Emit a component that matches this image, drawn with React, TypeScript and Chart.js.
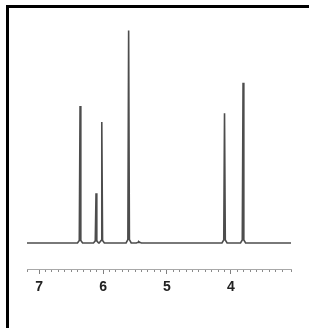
import React, { useEffect, useRef } from 'react';
import { Chart, registerables } from 'chart.js';

Chart.register(...registerables);

// Chemical shifts (ppm) of the peaks and their relative intensities (tallest = 100)
const peakShifts = [6.36, 6.11, 6.02, 5.6, 5.44, 4.1, 3.81];
const peakHeights = [64.5, 23.4, 57.0, 100, 0.6, 61.1, 75.4];
const peakFoot = [1.2, 1.0, 1.2, 1.6, 0.3, 1.4, 1.4];
const spectrumStart = 7.19;
const spectrumEnd = 3.06;
const axisMin = 3.06;
const axisMax = 7.19;
const yMin = -12.25;
const yMax = 105.0;

const isInt = (v: number) => Math.abs(v - Math.round(v)) < 1e-6;

function buildSpectrum() {
  const pts: { x: number; y: number }[] = [{ x: spectrumStart, y: 0 }];
  peakShifts.forEach((p, i) => {
    pts.push({ x: p + 0.04, y: 0 });
    pts.push({ x: p + 0.012, y: peakFoot[i] });
    pts.push({ x: p, y: peakHeights[i] });
    pts.push({ x: p - 0.012, y: peakFoot[i] });
    pts.push({ x: p - 0.04, y: 0 });
  });
  pts.push({ x: spectrumEnd, y: 0 });
  return pts;
}

export default function App() {
  const ref = useRef<HTMLCanvasElement | null>(null);

  useEffect(() => {
    if (!ref.current) return;
    const chart = new Chart(ref.current, {
      type: 'line',
      data: {
        datasets: [
          {
            data: buildSpectrum(),
            borderColor: '#4d4d4d',
            borderWidth: 1.6,
            pointRadius: 0,
            tension: 0,
            fill: false,
          },
        ],
      },
      options: {
        responsive: false,
        animation: false,
        layout: { padding: { left: 27, right: 18, top: 20, bottom: 0 } },
        plugins: { legend: { display: false }, tooltip: { enabled: false } },
        scales: {
          x: {
            type: 'linear',
            reverse: true,
            min: axisMin,
            max: axisMax,
            afterFit: (s: any) => {
              s.height = 59;
            },
            grid: {
              drawOnChartArea: false,
              drawTicks: true,
              tickLength: 5,
              tickWidth: 1,
              tickColor: (ctx: any) =>
                ctx.tick && isInt(ctx.tick.value) ? '#808080' : '#8a8a8a',
              tickBorderDash: (ctx: any) =>
                ctx.tick && isInt(ctx.tick.value) ? [] : [2, 20],
            },
            border: { display: true, color: '#a8a8a8', width: 1 },
            ticks: {
              stepSize: 0.1,
              autoSkip: false,
              maxRotation: 0,
              minRotation: 0,
              padding: 5,
              color: '#222222',
              font: { family: 'Liberation Sans', size: 14, weight: 'bold' },
              callback: (v: any) => (isInt(Number(v)) ? String(Math.round(Number(v))) : ''),
            },
          },
          y: { display: false, min: yMin, max: yMax },
        },
      },
    } as any);
    return () => chart.destroy();
  }, []);

  return (
    <div style={{ position: 'fixed', left: 0, top: 0, width: 309, height: 328, background: '#fff' }}>
      <canvas ref={ref} width={309} height={328} style={{ position: 'absolute', left: 0, top: 0 }} />
      <div
        style={{
          position: 'absolute',
          left: 6,
          top: 5,
          right: 0,
          bottom: 0,
          borderLeft: '3px solid #000',
          borderTop: '3px solid #000',
          pointerEvents: 'none',
        }}
      />
    </div>
  );
}
